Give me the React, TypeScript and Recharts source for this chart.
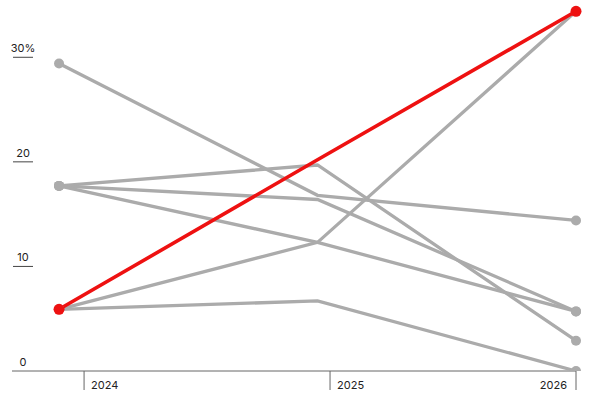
import { LineChart, Line, XAxis, YAxis, ReferenceLine } from 'recharts'

const years = [2024, 2025, 2026]
const yTicks = [0, 10, 20, 30]

// grey comparison series
const seriesA = [29.4, 16.8, 14.4]
const seriesB = [17.7, 19.7, 2.9]
const seriesC = [17.7, 16.4, 5.7]
const seriesD = [17.7, 12.3, 5.7]
const seriesE = [5.9, 12.3, 34.4]
const seriesF = [5.9, 6.7, 0]
// highlighted series
const highlight = [5.9, 20.2, 34.4]

const greySeries = [seriesA, seriesB, seriesC, seriesD, seriesE, seriesF]

const data = years.map((year, i) => {
  const row: { [key: string]: number } = { year, red: highlight[i] }
  greySeries.forEach((s, k) => {
    row['g' + k] = s[i]
  })
  return row
})

const GREY = '#ababab'
const RED = '#ee1111'
const FONT = 'Inter, "Noto Sans", sans-serif'

// only the first and last points get a marker
const endDot = (color: string, r: number) => (props: any) => {
  const { cx, cy, index } = props
  if (index !== 0 && index !== years.length - 1) return <g key={index} />
  return <circle key={index} cx={cx} cy={cy} r={r} fill={color} />
}

function YTick(props: any) {
  const { y, payload } = props
  const label = payload.value === 30 ? '30%' : String(payload.value)
  return (
    <g>
      <text x={23} y={y - 5} textAnchor="middle" fontSize={11} fill="#222" fontFamily={FONT}>
        {label}
      </text>
      {payload.value !== 0 && <line x1={13} x2={33} y1={y} y2={y} stroke="#444" strokeWidth={1} />}
    </g>
  )
}

function XTick(props: any) {
  const { x, y, payload } = props
  const last = payload.value === years[years.length - 1]
  return (
    <text
      x={last ? x - 9 : x + 7}
      y={y - 1}
      textAnchor={last ? 'end' : 'start'}
      fontSize={11}
      fill="#222"
      fontFamily={FONT}
    >
      {payload.value}
    </text>
  )
}

export default function App() {
  return (
    <div style={{ position: 'absolute', left: 0, top: 0, background: '#fff' }}>
      <LineChart width={600} height={400} data={data} margin={{ top: 5, right: 24, bottom: 0, left: 11 }}>
        <XAxis
          xAxisId="pts"
          dataKey="year"
          type="number"
          orientation="top"
          height={0}
          domain={[2023.818, 2026]}
          hide
        />
        <XAxis
          xAxisId="yrs"
          dataKey="year"
          type="number"
          domain={[2023.707, 2026]}
          ticks={years}
          height={29}
          tickSize={19}
          tickMargin={0}
          axisLine={false}
          tickLine={{ stroke: '#666' }}
          tick={<XTick />}
          allowDataOverflow
        />
        <YAxis
          width={1}
          domain={[0, 35]}
          ticks={yTicks}
          axisLine={false}
          tickLine={false}
          tick={<YTick />}
          allowDataOverflow
        />
        <ReferenceLine xAxisId="pts" y={0} stroke="#666" strokeWidth={1} />
        {greySeries.map((_, k) => (
          <Line
            key={k}
            xAxisId="pts"
            dataKey={'g' + k}
            stroke={GREY}
            strokeWidth={3.3}
            dot={endDot(GREY, 5)}
            activeDot={false}
            isAnimationActive={false}
          />
        ))}
        <Line
          xAxisId="pts"
          dataKey="red"
          stroke={RED}
          strokeWidth={3.6}
          dot={endDot(RED, 5.5)}
          activeDot={false}
          isAnimationActive={false}
        />
      </LineChart>
    </div>
  )
}
